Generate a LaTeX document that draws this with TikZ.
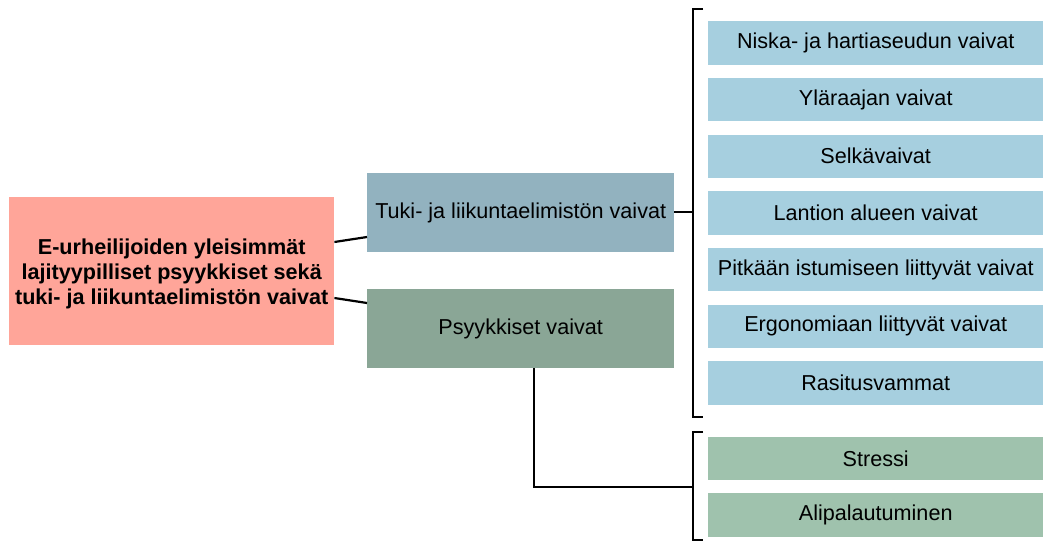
\documentclass[tikz,border=0pt]{standalone}
\usepackage{fontspec}
\setmainfont{Liberation Sans}
\begin{document}
\begin{tikzpicture}[x=1pt,y=-1pt,
  box/.style={rectangle, inner sep=0pt, anchor=north west, font=\fontsize{21.6}{25}\selectfont, align=center},
  conn/.style={line width=2.2pt, black},
  brk/.style={line width=2.2pt, black}]
\useasboundingbox (0,0) rectangle (1043,543);
\definecolor{mainc}{HTML}{FFA599}
\definecolor{tukic}{HTML}{92B2BF}
\definecolor{psyc}{HTML}{8AA696}
\definecolor{bluec}{HTML}{A6CFDF}
\definecolor{greenc}{HTML}{9FC2AD}
\node[box, fill=mainc, minimum width=325pt, minimum height=148pt] (main) at (9,197) {};
\node[font=\fontsize{21.6}{25.2}\selectfont\bfseries, align=center, inner sep=0pt] (maintext) at ([yshift=-2.5pt]main.center) {E-urheilijoiden yleisimmät\\lajityypilliset psyykkiset sekä\\tuki- ja liikuntaelimistön vaivat};
\node[box, fill=tukic, minimum width=307pt, minimum height=79pt] (tuki) at (367,173) {Tuki- ja liikuntaelimistön vaivat};
\node[box, fill=psyc, minimum width=307pt, minimum height=79pt] (psy) at (367,289) {Psyykkiset vaivat};
\foreach \n/\y/\t in {b1/21/Niska- ja hartiaseudun vaivat, b2/77.7/Yläraajan vaivat, b3/134.3/Selkävaivat, b4/191/Lantion alueen vaivat, b5/247.7/Pitkään istumiseen liittyvät vaivat, b6/304.3/Ergonomiaan liittyvät vaivat, b7/361/Rasitusvammat}
  \node[box, fill=bluec, minimum width=335pt, minimum height=43.5pt] (\n) at (708,\y) {\t};
\node[box, fill=greenc, minimum width=335pt, minimum height=43.5pt] (g1) at (708,436.5) {Stressi};
\node[box, fill=greenc, minimum width=335pt, minimum height=43.5pt] (g2) at (708,493) {Alipalautuminen};
% connectors
\draw[conn] ([yshift=-45pt]main.north east) -- ([yshift=-64pt]tuki.north west);
\draw[conn] ([yshift=-101pt]main.north east) -- ([yshift=-14pt]psy.north west);
\coordinate (k1) at (693,212);
\draw[conn] (tuki.east |- k1) -- (k1);
\draw[brk] (703,9) -- (693,9) -- (693,417) -- (703,417);
\coordinate (k2) at (693,487);
\draw[conn] (psy.south -| 534,0) -- (534,487) -- (k2);
\draw[brk] (703,432) -- (693,432) -- (693,540) -- (703,540);
\end{tikzpicture}
\end{document}
